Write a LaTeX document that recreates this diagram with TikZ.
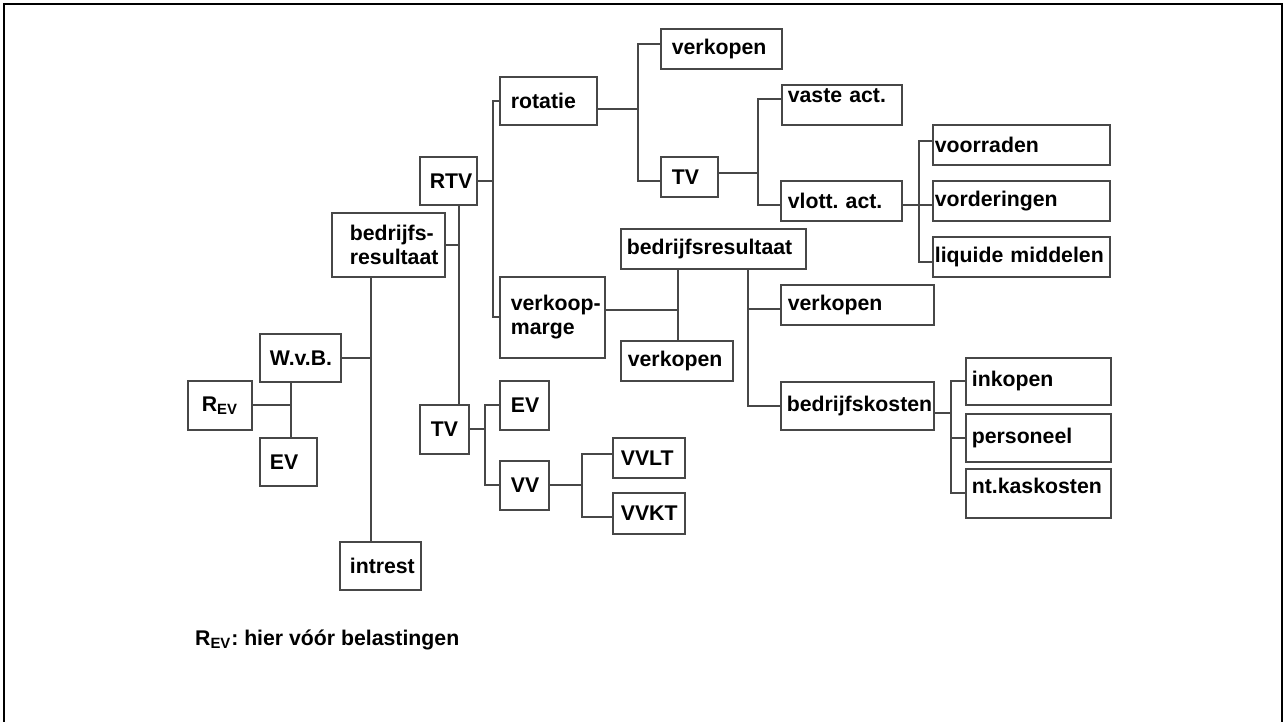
\documentclass[tikz,border=0pt]{standalone}
\usepackage{fontspec}
\setmainfont{Liberation Sans}
\usetikzlibrary{calc}
\definecolor{lijn}{HTML}{474747}
\newdimen\pxlen \pxlen=0.02cm
\frenchspacing

\begin{document}
\begin{tikzpicture}[x=0.02cm, y=-0.02cm, font=\fontsize{12.1}{13.7}\selectfont\bfseries,
	box/.style args={#1/#2/#3}{draw=lijn, line width=0.034cm, anchor=north west, inner sep=0pt, align=left, text width=#1*0.02cm, minimum height=#2*0.02cm, execute at begin node={\leftskip=#3\pxlen}},
	tak/.style={draw=lijn, line width=0.034cm}]
	\useasboundingbox (0,0) rectangle (1285,722);
	\draw[line width=0.045cm] (4,722) -- (4,4) -- (1282,4) -- (1282,722);

	\node[box=113/64/18] (bres) at (331,212) {bedrijfs-\\resultaat};
	\node[box=57/48/10] (rtv) at (419,156) {RTV};
	\node[box=81/48/10] (wvb) at (259,333) {W.v.B.};
	\node[box=64/49/14] (rev) at (187,380) {R\textsubscript{EV}};
	\node[box=57/48/10] (evl) at (259,437) {EV};
	\node[box=81/48/10] (intr) at (339,541) {intrest};
	\node[box=49/49/11] (tvl) at (419,404) {TV};
	\node[box=49/49/11] (evr) at (499,380) {EV};
	\node[box=49/49/11] (vv) at (499,460) {VV};
	\node[box=72/40/8] (vvlt) at (612,437) {VVLT};
	\node[box=72/41/8] (vvkt) at (612,492) {VVKT};
	\node[box=97/48/11] (rot) at (499,76) {rotatie};
	\node[box=121/40/11] (vk1) at (660,28) {verkopen};
	\node[box=57/40/11] (tvm) at (660,156) {TV};
	\node[box=120/40/6, text depth=0.36cm] (vast) at (781,84) {vaste act.};
	\node[box=121/40/7] (vlot) at (780,180) {vlott. act.};
	\node[box=177/40/2] (voor) at (932,124) {voorraden};
	\node[box=177/40/2] (vord) at (932,180) {vorderingen};
	\node[box=177/40/2] (liq) at (932,236) {liquide middelen};
	\node[box=105/81/11] (marg) at (499,276) {verkoop-\\marge};
	\node[box=185/40/6] (bres2) at (620,228) {bedrijfsresultaat};
	\node[box=112/40/7] (vk2) at (620,340) {verkopen};
	\node[box=153/40/7] (vk3) at (780,284) {verkopen};
	\node[box=153/48/6] (bk) at (780,381) {bedrijfskosten};
	\node[box=145/47/6] (ink) at (965,357) {inkopen};
	\node[box=145/48/6] (pers) at (965,413) {personeel};
	\node[box=145/49/6, text depth=0.32cm] (nk) at (965,468) {nt.kaskosten};
	\node[anchor=base west] (noot) at (189,645) {R\textsubscript{EV}: hier vóór belastingen};

	\coordinate (j1) at (371,356);
	\coordinate (j2) at (459,243);
	\coordinate (j3) at (291,405);
	\draw[tak] (bres.south -| j1) -- (intr.north -| j1);
	\draw[tak] (wvb.east) -- (wvb.east -| j1);
	\draw[tak] (rtv.south -| j2) -- (tvl.north -| j2);
	\draw[tak] (bres.east) -- (bres.east -| j2);
	\draw[tak] (wvb.south -| j3) -- (evl.north -| j3);
	\draw[tak] (rev.east) -- (rev.east -| j3);

	\draw[tak] (tvl.east) -- ++(15,0) coordinate (j4);
	\draw[tak] (evr.west) -| (j4) |- (vv.west);
	\draw[tak] (vv.east) -- ++(32,0) coordinate (j5);
	\draw[tak] ($(vvlt.west)+(0,-4)$) -| (j5) |- ($(vvkt.west)+(0,4)$);

	\draw[tak] (rtv.east) -- ++(15,0) coordinate (j6);
	\draw[tak] (rot.west) -| (j6) |- (marg.west);
	\draw[tak] ($(rot.east)+(0,8)$) -- ++(40,0) coordinate (j7);
	\draw[tak] ($(vk1.west)+(0,-5)$) -| (j7) |- ($(tvm.west)+(0,4)$);
	\draw[tak] ($(tvm.east)+(0,-4)$) -- ++(39,0) coordinate (j8);
	\draw[tak] ($(vast.north west)+(0,15)$) -| (j8) |- ($(vlot.west)+(0,4)$);
	\draw[tak] ($(vlot.east)+(0,4)$) -- ++(16,0) coordinate (j9);
	\draw[tak] ($(voor.west)+(0,-4)$) -| (j9) |- ($(liq.west)+(0,5)$);
	\draw[tak] (j9) -- ($(vord.west)+(0,4)$);

	\draw[tak] ($(marg.east)+(0,-7)$) -- ++(72,0) coordinate (j10);
	\draw[tak] (bres2.south -| j10) -- (vk2.north -| j10);
	\draw[tak] ($(bres2.south west)+(128,0)$) |- (bk.west);
	\draw[tak] ($(vk3.west)+(0,4)$) -- ++(-32,0);
	\draw[tak] ($(bk.east)+(0,7)$) -- ++(16,0) coordinate (j12);
	\draw[tak] (ink.west) -| (j12) |- (nk.west);
	\draw[tak] (pers.west) -- (pers.west -| j12);
\end{tikzpicture}
\end{document}
